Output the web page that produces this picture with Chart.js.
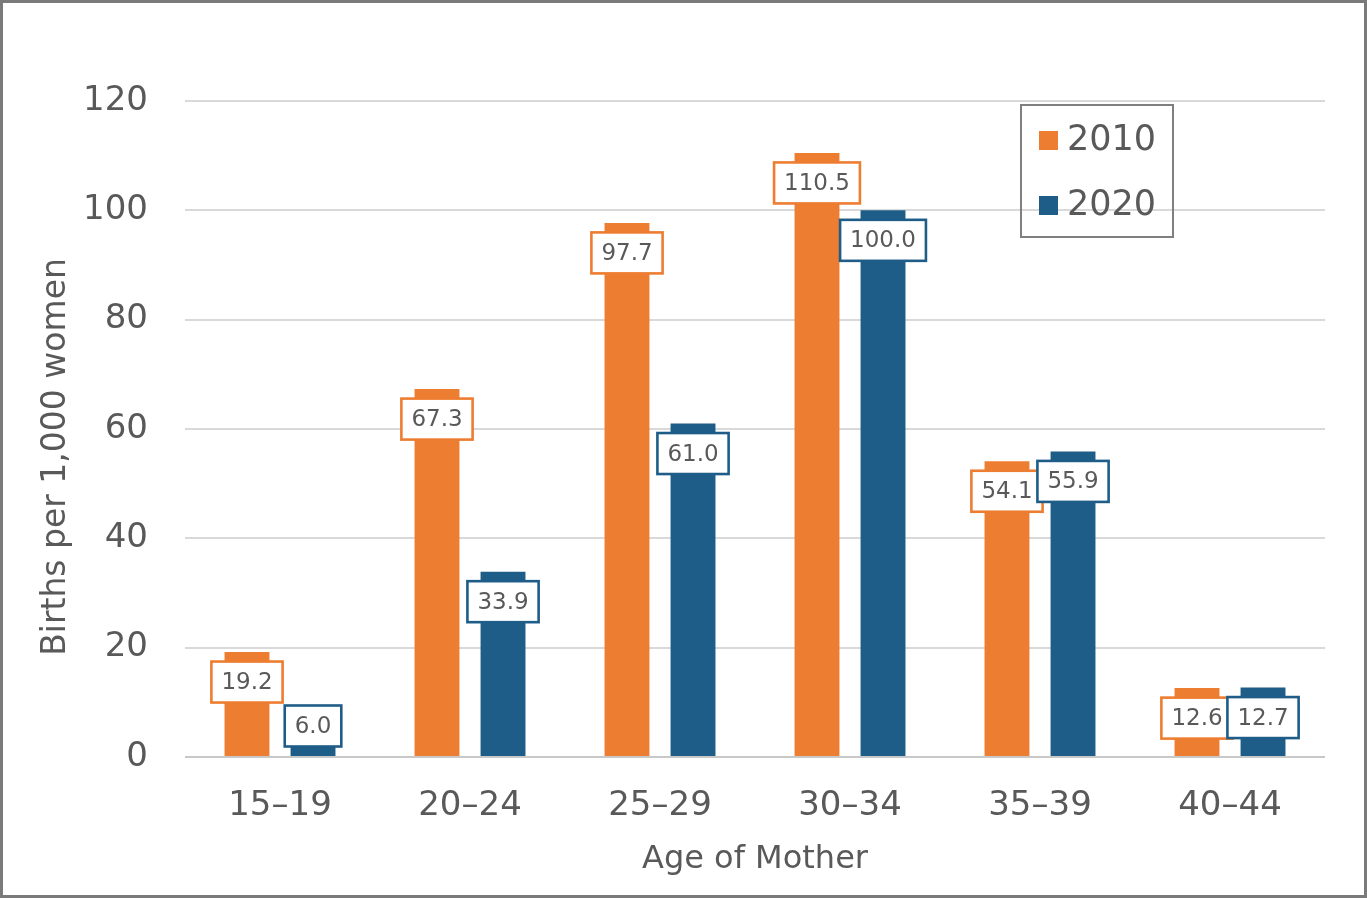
<!DOCTYPE html>
<html><head><meta charset="utf-8">
<script src="https://cdn.jsdelivr.net/npm/chart.js@4.4.0/dist/chart.umd.min.js"></script>
<style>html,body{margin:0;padding:0;background:#fff;} #wrap{width:1367px;height:898px;}</style>
</head><body><div id="wrap"><canvas id="c" width="1367" height="898"></canvas></div>
<script>
const categories = ['15–19','20–24','25–29','30–34','35–39','40–44'];
const seriesNames = ['2010','2020'];
const values2010 = [19.2, 67.3, 97.7, 110.5, 54.1, 12.6];
const values2020 = [6.0, 33.9, 61.0, 100.0, 55.9, 12.7];
const yTicks = [0, 20, 40, 60, 80, 100, 120];
const colors = ['#ED7D31', '#1E5D88'];
const xTitle = 'Age of Mother';
const yTitle = 'Births per 1,000 women';

const FONT = "'DejaVu Sans', sans-serif";
const TXT = '#595959';

const decorPlugin = {
  id: 'decor',
  afterDatasetsDraw(chart) {
    const ctx = chart.ctx;
    ctx.save();
    ctx.font = '23px ' + FONT;
    ctx.textAlign = 'center';
    ctx.textBaseline = 'middle';
    chart.data.datasets.forEach((ds, i) => {
      const meta = chart.getDatasetMeta(i);
      meta.data.forEach((el, j) => {
        const txt = ds.data[j].toFixed(1);
        const w = ctx.measureText(txt).width + 20;
        const h = 41;
        const cy = Math.min(el.y + 30, el.base - 30);
        const x = el.x - w / 2, y = cy - h / 2;
        ctx.fillStyle = '#fff';
        ctx.fillRect(x, y, w, h);
        ctx.lineWidth = 2.6;
        ctx.strokeStyle = ds.backgroundColor;
        ctx.strokeRect(x, y, w, h);
        ctx.fillStyle = TXT;
        ctx.fillText(txt, el.x, cy + 1);
      });
    });
    ctx.restore();
  },
  afterDraw(chart) {
    const ctx = chart.ctx;
    ctx.save();
    ctx.translate(56, 457);
    ctx.rotate(-Math.PI / 2);
    ctx.font = '33px ' + FONT;
    ctx.fillStyle = TXT;
    ctx.textAlign = 'center';
    ctx.textBaseline = 'middle';
    ctx.fillText(yTitle, 0, 0);
    ctx.restore();

    ctx.save();
    ctx.lineWidth = 2;
    ctx.strokeStyle = '#7F7F7F';
    ctx.strokeRect(1021, 105, 152, 132);
    ctx.font = '35px ' + FONT;
    ctx.textBaseline = 'middle';
    ctx.textAlign = 'left';
    chart.data.datasets.forEach((ds, i) => {
      const cy = 140 + i * 65;
      ctx.fillStyle = ds.backgroundColor;
      ctx.fillRect(1039, cy - 9, 19, 19);
      ctx.fillStyle = TXT;
      ctx.fillText(ds.label, 1067, cy + 1);
    });
    ctx.restore();

    ctx.save();
    ctx.lineWidth = 3;
    ctx.strokeStyle = '#7A7A7A';
    ctx.strokeRect(1.5, 1.5, 1364, 895);
    ctx.restore();
  }
};

new Chart(document.getElementById('c'), {
  type: 'bar',
  data: {
    labels: categories,
    datasets: [
      { label: seriesNames[0], data: values2010, backgroundColor: colors[0] },
      { label: seriesNames[1], data: values2020, backgroundColor: colors[1] }
    ]
  },
  options: {
    responsive: false,
    animation: false,
    devicePixelRatio: 1,
    categoryPercentage: 0.695,
    barPercentage: 0.68,
    layout: { padding: { left: 0, right: 42, top: 101, bottom: 0 } },
    plugins: { legend: { display: false }, tooltip: { enabled: false } },
    scales: {
      x: {
        grid: { display: false, drawTicks: false },
        border: { display: false },
        ticks: { color: TXT, font: { family: FONT, size: 34 }, padding: 29, maxRotation: 0 },
        title: { display: true, text: xTitle, color: TXT, font: { family: FONT, size: 32 }, padding: { top: 0, bottom: 19 } },
        afterFit(s) { s.height = 141; }
      },
      y: {
        min: yTicks[0], max: yTicks[yTicks.length - 1],
        afterBuildTicks(s) { s.ticks = yTicks.map(v => ({ value: v })); },
        grid: {
          drawTicks: false, lineWidth: 2,
          color: c => c.tick && c.tick.value === 0 ? '#C8C8C8' : '#D9D9D9'
        },
        border: { display: false },
        ticks: { color: TXT, font: { family: FONT, size: 34 }, padding: 37 },
        afterFit(s) { s.width = 185; }
      }
    }
  },
  plugins: [decorPlugin]
});
</script>
</body></html>
